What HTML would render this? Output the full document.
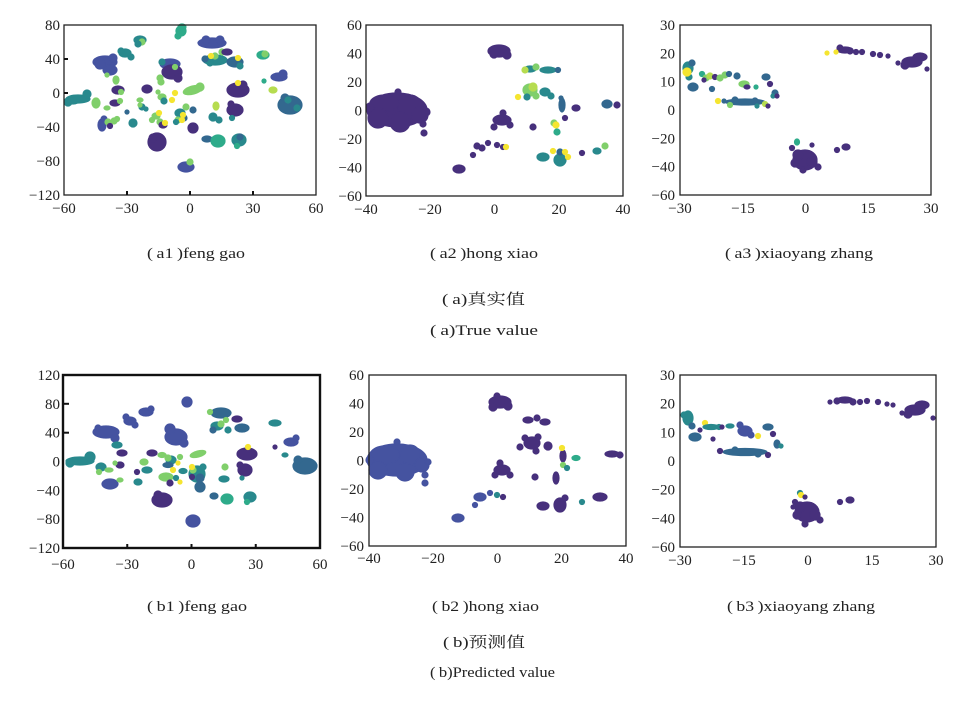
<!DOCTYPE html>
<html><head><meta charset="utf-8">
<style>
html,body{margin:0;padding:0;background:#fff;}
svg{display:block;}
.dp{fill:#47307c;stroke:#47307c}.bp{fill:#4553a0;stroke:#4553a0}.b{fill:#33688f;stroke:#33688f}.t{fill:#29898d;stroke:#29898d}.tg{fill:#2eab8a;stroke:#2eab8a}.g{fill:#80cf6b;stroke:#80cf6b}.lg{fill:#b6dc50;stroke:#b6dc50}.y{fill:#f5e530;stroke:#f5e530}
.pts ellipse,.pts circle{stroke-width:1.2;}
text{font-family:"Liberation Serif","Noto Serif CJK SC","Noto Sans CJK SC",serif;fill:#222;}
.tk{font-size:15px;}
.cap{font-size:15px;}
.ax{fill:none;stroke:#222;stroke-width:1.3;}
.tm{stroke:#111;stroke-width:2;}
</style></head><body>
<svg width="970" height="701" viewBox="0 0 970 701" xmlns="http://www.w3.org/2000/svg">
<rect width="970" height="701" fill="#fff"/>

<!-- ================= a1 ================= -->
<g class="pts">
<ellipse class="t" cx="78" cy="99" rx="12" ry="4"/><circle class="t" cx="68" cy="102" r="4"/><circle class="t" cx="87" cy="94" r="4"/><ellipse class="t" cx="73" cy="101" rx="6" ry="3"/>
<ellipse class="bp" cx="105" cy="62" rx="12" ry="6"/><ellipse class="bp" cx="110" cy="70" rx="7" ry="5"/><circle class="bp" cx="100" cy="64" r="5"/><circle class="bp" cx="113" cy="58" r="4"/>
<ellipse class="t" cx="125" cy="53" rx="6" ry="4"/><circle class="t" cx="131" cy="57" r="3"/><circle class="t" cx="121" cy="51" r="3"/>
<ellipse class="t" cx="140" cy="40" rx="6" ry="4"/><circle class="g" cx="142" cy="42" r="3"/><circle class="t" cx="138" cy="44" r="3"/>
<ellipse class="tg" cx="181" cy="31" rx="5" ry="5"/><ellipse class="tg" cx="182" cy="27" rx="4" ry="3"/><circle class="tg" cx="178" cy="36" r="3"/>
<ellipse class="bp" cx="170" cy="64" rx="10" ry="5"/><ellipse class="dp" cx="172" cy="72" rx="10" ry="7"/><circle class="t" cx="162" cy="62" r="3"/><circle class="g" cx="175" cy="67" r="2.5"/><circle class="dp" cx="178" cy="78" r="4"/>
<circle class="g" cx="160" cy="78" r="3"/><circle class="g" cx="161" cy="82" r="3"/>
<ellipse class="dp" cx="147" cy="89" rx="5" ry="4"/>
<ellipse class="dp" cx="118" cy="90" rx="6" ry="4"/><circle class="g" cx="121" cy="92" r="2.5"/>
<ellipse class="g" cx="116" cy="80" rx="3" ry="4"/><circle class="g" cx="107" cy="75" r="2"/>
<ellipse class="g" cx="193" cy="90" rx="10" ry="4" transform="rotate(-15 193 90)"/><circle class="g" cx="200" cy="87" r="4"/>
<ellipse class="bp" cx="212" cy="43" rx="14" ry="5"/><circle class="bp" cx="220" cy="40" r="4"/><circle class="bp" cx="206" cy="40" r="4"/>
<ellipse class="t" cx="215" cy="60" rx="12" ry="5"/><circle class="g" cx="215" cy="56" r="3"/><circle class="y" cx="211" cy="56" r="2.5"/><circle class="g" cx="222" cy="52" r="3"/><circle class="t" cx="210" cy="63" r="3"/><circle class="b" cx="205" cy="59" r="3"/>
<ellipse class="dp" cx="227" cy="52" rx="5" ry="3"/>
<ellipse class="b" cx="235" cy="62" rx="8" ry="5"/><circle class="y" cx="238" cy="58" r="2.5"/><circle class="t" cx="240" cy="66" r="3"/>
<ellipse class="tg" cx="263" cy="55" rx="6" ry="4"/><circle class="g" cx="265" cy="54" r="3"/>
<ellipse class="dp" cx="238" cy="90" rx="11" ry="7"/><circle class="dp" cx="243" cy="85" r="4"/><circle class="y" cx="238" cy="83" r="2.5"/>
<ellipse class="dp" cx="235" cy="110" rx="8" ry="6"/><circle class="dp" cx="231" cy="104" r="3"/><circle class="t" cx="232" cy="118" r="2.5"/>
<ellipse class="bp" cx="279" cy="77" rx="8" ry="4"/><circle class="bp" cx="283" cy="74" r="4"/><circle class="tg" cx="264" cy="81" r="2"/>
<ellipse class="lg" cx="273" cy="90" rx="4" ry="3"/>
<ellipse class="b" cx="290" cy="105" rx="12" ry="9"/><circle class="b" cx="285" cy="98" r="4"/><circle class="t" cx="288" cy="100" r="3"/><circle class="t" cx="297" cy="108" r="3"/>
<ellipse class="g" cx="96" cy="103" rx="4" ry="5"/>
<ellipse class="g" cx="107" cy="108" rx="3" ry="2"/>
<ellipse class="dp" cx="115" cy="103" rx="5" ry="3"/><circle class="g" cx="120" cy="101" r="2.5"/>
<ellipse class="bp" cx="102" cy="125" rx="4" ry="6"/><circle class="bp" cx="104" cy="119" r="3"/>
<circle class="g" cx="108" cy="122" r="3"/><circle class="g" cx="114" cy="121" r="3"/><circle class="dp" cx="110" cy="126" r="2.5"/><circle class="g" cx="117" cy="119" r="2.5"/>
<ellipse class="t" cx="133" cy="123" rx="4" ry="4"/>
<circle class="b" cx="127" cy="112" r="2"/>
<ellipse class="g" cx="140" cy="100" rx="3" ry="2"/>
<circle class="t" cx="142" cy="107" r="3"/><circle class="g" cx="140" cy="105" r="2"/><circle class="t" cx="146" cy="109" r="2"/>
<ellipse class="g" cx="162" cy="97" rx="4" ry="3"/><circle class="t" cx="164" cy="101" r="3"/><circle class="g" cx="158" cy="92" r="2"/>
<circle class="y" cx="172" cy="100" r="2.5"/><circle class="y" cx="175" cy="93" r="2.5"/>
<ellipse class="g" cx="156" cy="116" rx="4" ry="3"/><circle class="g" cx="160" cy="122" r="3"/><circle class="y" cx="159" cy="113" r="2.5"/><circle class="g" cx="152" cy="120" r="2.5"/>
<ellipse class="dp" cx="163" cy="125" rx="4" ry="3"/><circle class="y" cx="165" cy="123" r="2.5"/>
<ellipse class="t" cx="180" cy="113" rx="5" ry="4"/><circle class="b" cx="184" cy="118" r="3"/><circle class="g" cx="178" cy="120" r="3"/><circle class="g" cx="186" cy="107" r="3"/><circle class="t" cx="176" cy="122" r="2.5"/>
<circle class="y" cx="183" cy="115" r="2.5"/><circle class="y" cx="182" cy="120" r="2.5"/>
<ellipse class="dp" cx="193" cy="128" rx="5" ry="5"/>
<ellipse class="b" cx="193" cy="110" rx="3" ry="3"/>
<ellipse class="lg" cx="216" cy="106" rx="3" ry="4"/>
<ellipse class="t" cx="213" cy="117" rx="4" ry="4"/><circle class="t" cx="219" cy="120" r="3"/>
<ellipse class="b" cx="207" cy="139" rx="5" ry="3"/>
<ellipse class="tg" cx="218" cy="141" rx="7" ry="6"/>
<ellipse class="t" cx="239" cy="140" rx="7" ry="6"/><circle class="b" cx="240" cy="137" r="3"/>
<circle class="tg" cx="237" cy="146" r="2.5"/>
<ellipse class="dp" cx="157" cy="142" rx="9" ry="9"/><circle class="dp" cx="153" cy="138" r="4"/>
<ellipse class="bp" cx="186" cy="167" rx="8" ry="5"/><ellipse class="g" cx="190" cy="162" rx="3" ry="3"/>
</g>
<rect class="ax" x="64" y="25" width="252" height="170"/>
<line class="tm" x1="64" y1="59" x2="68" y2="59"/><line class="tm" x1="64" y1="93" x2="68" y2="93"/>
<line class="tm" x1="127" y1="195" x2="127" y2="191"/><line class="tm" x1="190" y1="195" x2="190" y2="191"/><line class="tm" x1="253" y1="195" x2="253" y2="191"/>
<g class="tk" text-anchor="end">
<text x="60" y="30">80</text><text x="60" y="64">40</text><text x="60" y="98">0</text><text x="60" y="132">−40</text><text x="60" y="166">−80</text><text x="60" y="200">−120</text>
</g>
<g class="tk" text-anchor="middle">
<text x="64" y="213">−60</text><text x="127" y="213">−30</text><text x="190" y="213">0</text><text x="253" y="213">30</text><text x="316" y="213">60</text>
</g>

<!-- ================= a2 ================= -->
<g class="pts">
<ellipse class="dp" cx="397" cy="110" rx="30" ry="17"/><ellipse class="dp" cx="385" cy="103" rx="15" ry="8"/><circle class="dp" cx="410" cy="107" r="12"/><circle class="dp" cx="420" cy="115" r="8"/><circle class="dp" cx="378" cy="118" r="10"/><circle class="dp" cx="400" cy="122" r="10"/>
<circle class="dp" cx="398" cy="92" r="3"/><circle class="dp" cx="426" cy="112" r="4"/><circle class="dp" cx="423" cy="124" r="3"/><circle class="dp" cx="424" cy="133" r="3"/><circle class="dp" cx="370" cy="107" r="4"/>
<ellipse class="dp" cx="499" cy="51" rx="11" ry="6"/><circle class="dp" cx="494" cy="54" r="4"/><circle class="dp" cx="507" cy="55" r="4"/>
<ellipse class="dp" cx="502" cy="120" rx="9" ry="5"/><circle class="dp" cx="494" cy="127" r="3"/><circle class="dp" cx="510" cy="125" r="3"/><circle class="dp" cx="503" cy="113" r="3"/>
<circle class="dp" cx="477" cy="146" r="3"/><circle class="dp" cx="482" cy="148" r="3"/><circle class="dp" cx="488" cy="143" r="2.5"/><circle class="dp" cx="497" cy="145" r="2.5"/><circle class="dp" cx="503" cy="147" r="2.5"/><circle class="y" cx="506" cy="147" r="2.5"/><circle class="dp" cx="473" cy="155" r="2.5"/>
<ellipse class="dp" cx="459" cy="169" rx="6" ry="4"/>
<ellipse class="t" cx="530" cy="69" rx="6" ry="3"/><circle class="lg" cx="525" cy="70" r="3"/><circle class="g" cx="536" cy="67" r="3"/>
<ellipse class="t" cx="548" cy="70" rx="8" ry="3"/><circle class="b" cx="558" cy="70" r="2.5"/>
<ellipse class="g" cx="530" cy="90" rx="7" ry="6"/><circle class="lg" cx="533" cy="87" r="4"/><circle class="t" cx="527" cy="97" r="3"/><circle class="g" cx="536" cy="96" r="3"/>
<ellipse class="t" cx="545" cy="92" rx="5" ry="4"/><circle class="t" cx="551" cy="96" r="3"/>
<circle class="y" cx="518" cy="97" r="2.5"/>
<ellipse class="b" cx="562" cy="105" rx="3" ry="7"/><circle class="b" cx="561" cy="98" r="2"/>
<ellipse class="dp" cx="576" cy="108" rx="4" ry="3"/><circle class="dp" cx="565" cy="118" r="2.5"/><circle class="dp" cx="533" cy="127" r="3"/>
<circle class="g" cx="554" cy="123" r="3"/><circle class="y" cx="556" cy="125" r="3"/>
<circle class="tg" cx="557" cy="132" r="3"/>
<ellipse class="t" cx="543" cy="157" rx="6" ry="4"/>
<ellipse class="t" cx="560" cy="160" rx="6" ry="6"/><circle class="b" cx="560" cy="152" r="3"/><circle class="y" cx="553" cy="151" r="2.5"/><circle class="y" cx="565" cy="152" r="2.5"/><circle class="y" cx="568" cy="157" r="2.5"/>
<circle class="dp" cx="582" cy="153" r="2.5"/>
<ellipse class="t" cx="597" cy="151" rx="4" ry="3"/><ellipse class="g" cx="605" cy="146" rx="3" ry="3"/>
<ellipse class="b" cx="607" cy="104" rx="5" ry="4"/><circle class="dp" cx="617" cy="105" r="3"/>
</g>
<rect class="ax" x="366" y="25" width="257" height="171"/>
<g class="tk" text-anchor="end">
<text x="362" y="30">60</text><text x="362" y="58.5">40</text><text x="362" y="87">20</text><text x="362" y="115.5">0</text><text x="362" y="144">−20</text><text x="362" y="172.5">−40</text><text x="362" y="201">−60</text>
</g>
<g class="tk" text-anchor="middle">
<text x="366" y="214">−40</text><text x="430" y="214">−20</text><text x="494.5" y="214">0</text><text x="559" y="214">20</text><text x="623" y="214">40</text>
</g>

<!-- ================= a3 ================= -->
<g class="pts">
<ellipse class="t" cx="688" cy="68" rx="5" ry="6"/><circle class="b" cx="692" cy="63" r="3"/><circle class="t" cx="689" cy="77" r="3"/><circle class="y" cx="687" cy="72" r="4"/>
<ellipse class="b" cx="693" cy="87" rx="5" ry="4"/>
<circle class="tg" cx="702" cy="74" r="2.5"/><circle class="g" cx="706" cy="78" r="3"/><circle class="lg" cx="710" cy="76" r="3"/><circle class="dp" cx="715" cy="77" r="2.5"/><circle class="g" cx="720" cy="78" r="3"/><circle class="g" cx="725" cy="75" r="3"/><circle class="b" cx="729" cy="74" r="2.5"/><circle class="dp" cx="704" cy="80" r="2"/><circle class="b" cx="712" cy="89" r="2.5"/>
<circle class="b" cx="737" cy="76" r="3"/>
<ellipse class="g" cx="744" cy="84" rx="5" ry="3"/><ellipse class="dp" cx="747" cy="87" rx="3" ry="2"/>
<circle class="tg" cx="756" cy="87" r="2"/>
<ellipse class="b" cx="766" cy="77" rx="4" ry="3"/>
<circle class="dp" cx="770" cy="84" r="2.5"/>
<circle class="b" cx="775" cy="93" r="3"/><circle class="t" cx="773" cy="96" r="2"/><circle class="dp" cx="777" cy="96" r="2"/>
<ellipse class="b" cx="745" cy="102" rx="20" ry="3"/><circle class="b" cx="735" cy="100" r="3"/><circle class="b" cx="755" cy="101" r="3"/><circle class="y" cx="718" cy="101" r="2.5"/><circle class="b" cx="724" cy="101" r="2"/><circle class="g" cx="730" cy="105" r="2.5"/><circle class="t" cx="757" cy="106" r="2"/><circle class="lg" cx="765" cy="104" r="2.5"/><circle class="dp" cx="768" cy="106" r="2"/>
<ellipse class="dp" cx="845" cy="50" rx="8" ry="3"/><circle class="dp" cx="840" cy="48" r="3"/><circle class="dp" cx="850" cy="51" r="3"/><circle class="dp" cx="856" cy="52" r="2.5"/><circle class="dp" cx="862" cy="52" r="2.5"/><circle class="dp" cx="873" cy="54" r="2.5"/><circle class="dp" cx="880" cy="55" r="2.5"/><circle class="dp" cx="888" cy="56" r="2"/>
<circle class="y" cx="827" cy="53" r="2"/><circle class="y" cx="836" cy="52" r="2"/>
<ellipse class="dp" cx="912" cy="62" rx="10" ry="5"/><ellipse class="dp" cx="920" cy="57" rx="7" ry="4"/><circle class="dp" cx="905" cy="65" r="4"/><circle class="dp" cx="898" cy="63" r="2"/><circle class="dp" cx="927" cy="69" r="2"/>
<ellipse class="dp" cx="805" cy="160" rx="12" ry="10"/><circle class="dp" cx="798" cy="155" r="5"/><circle class="dp" cx="812" cy="162" r="5"/><circle class="dp" cx="795" cy="163" r="4"/><circle class="dp" cx="818" cy="167" r="3"/><circle class="dp" cx="803" cy="170" r="3"/><circle class="dp" cx="792" cy="148" r="2.5"/>
<ellipse class="tg" cx="797" cy="142" rx="2.5" ry="3"/>
<circle class="dp" cx="812" cy="145" r="2"/><circle class="dp" cx="837" cy="150" r="2.5"/><ellipse class="dp" cx="846" cy="147" rx="4" ry="3"/>
</g>
<rect class="ax" x="680" y="25" width="251" height="170"/>
<g class="tk" text-anchor="end">
<text x="675" y="30">30</text><text x="675" y="58.3">20</text><text x="675" y="86.7">10</text><text x="675" y="115">0</text><text x="675" y="143.3">−20</text><text x="675" y="171.7">−40</text><text x="675" y="200">−60</text>
</g>
<g class="tk" text-anchor="middle">
<text x="680" y="213">−30</text><text x="743" y="213">−15</text><text x="805.5" y="213">0</text><text x="868" y="213">15</text><text x="931" y="213">30</text>
</g>

<!-- captions a -->
<g class="cap">
<text x="147" y="258" textLength="98" lengthAdjust="spacingAndGlyphs">(&#8201;a1&#8201;)feng gao</text>
<text x="430" y="258" textLength="108" lengthAdjust="spacingAndGlyphs">(&#8201;a2&#8201;)hong xiao</text>
<text x="725" y="258" textLength="148" lengthAdjust="spacingAndGlyphs">(&#8201;a3&#8201;)xiaoyang zhang</text>
<text x="442" y="304" textLength="83" lengthAdjust="spacingAndGlyphs">(&#8201;a)真实值</text>
<text x="430" y="335" textLength="108" lengthAdjust="spacingAndGlyphs">(&#8201;a)True value</text>
</g>

<!-- ================= b1 ================= -->
<g class="pts">
<ellipse class="t" cx="80" cy="461" rx="14" ry="4"/><circle class="t" cx="70" cy="463" r="4"/><circle class="t" cx="90" cy="457" r="5"/>
<ellipse class="bp" cx="106" cy="432" rx="13" ry="6"/><circle class="bp" cx="115" cy="438" r="4"/><circle class="bp" cx="98" cy="428" r="3"/>
<ellipse class="bp" cx="130" cy="421" rx="6" ry="4"/><circle class="bp" cx="126" cy="417" r="3"/><circle class="bp" cx="135" cy="425" r="3"/>
<ellipse class="bp" cx="146" cy="412" rx="7" ry="4"/><circle class="bp" cx="151" cy="409" r="3"/>
<ellipse class="bp" cx="187" cy="402" rx="5" ry="5"/>
<ellipse class="bp" cx="176" cy="437" rx="11" ry="8"/><circle class="bp" cx="170" cy="429" r="5"/><circle class="bp" cx="184" cy="443" r="4"/>
<ellipse class="b" cx="221" cy="413" rx="10" ry="5"/>
<ellipse class="dp" cx="237" cy="419" rx="5" ry="3"/>
<ellipse class="t" cx="217" cy="426" rx="6" ry="4"/><circle class="g" cx="221" cy="424" r="3"/><circle class="b" cx="213" cy="430" r="3"/><circle class="g" cx="226" cy="420" r="2.5"/><circle class="t" cx="228" cy="430" r="3"/>
<ellipse class="b" cx="242" cy="428" rx="7" ry="4"/>
<ellipse class="t" cx="275" cy="423" rx="6" ry="3"/>
<ellipse class="bp" cx="291" cy="442" rx="7" ry="4"/><circle class="bp" cx="296" cy="438" r="3"/><circle class="dp" cx="275" cy="447" r="2"/>
<ellipse class="t" cx="285" cy="455" rx="3" ry="2"/>
<ellipse class="dp" cx="247" cy="454" rx="10" ry="6"/><circle class="y" cx="248" cy="447" r="2.5"/>
<ellipse class="dp" cx="245" cy="470" rx="7" ry="6"/><circle class="dp" cx="240" cy="465" r="3"/><circle class="t" cx="242" cy="478" r="2"/>
<ellipse class="b" cx="305" cy="466" rx="12" ry="8"/><circle class="b" cx="298" cy="460" r="4"/>
<ellipse class="t" cx="117" cy="445" rx="5" ry="3"/><ellipse class="dp" cx="122" cy="453" rx="5" ry="3"/>
<ellipse class="t" cx="101" cy="467" rx="5" ry="4"/><circle class="g" cx="99" cy="472" r="2.5"/>
<ellipse class="dp" cx="120" cy="465" rx="4" ry="3"/><circle class="g" cx="115" cy="463" r="2"/>
<ellipse class="g" cx="109" cy="470" rx="4" ry="2"/>
<ellipse class="bp" cx="110" cy="484" rx="8" ry="5"/>
<ellipse class="g" cx="120" cy="480" rx="3" ry="2"/>
<ellipse class="t" cx="138" cy="482" rx="4" ry="3"/>
<circle class="dp" cx="137" cy="472" r="2.5"/>
<ellipse class="g" cx="144" cy="462" rx="4" ry="3"/>
<ellipse class="t" cx="147" cy="470" rx="5" ry="3"/>
<ellipse class="dp" cx="152" cy="453" rx="5" ry="3"/>
<ellipse class="g" cx="162" cy="455" rx="4" ry="2.5"/>
<ellipse class="t" cx="171" cy="460" rx="5" ry="4"/><circle class="g" cx="168" cy="458" r="3"/>
<circle class="g" cx="180" cy="457" r="2.5"/>
<ellipse class="b" cx="168" cy="465" rx="5" ry="2.5"/>
<ellipse class="g" cx="166" cy="477" rx="7" ry="4"/><circle class="dp" cx="170" cy="483" r="3"/><circle class="t" cx="176" cy="478" r="2.5"/>
<circle class="y" cx="173" cy="470" r="2.5"/><circle class="y" cx="178" cy="463" r="2"/>
<ellipse class="t" cx="183" cy="471" rx="4" ry="2.5"/>
<ellipse class="dp" cx="162" cy="500" rx="10" ry="7"/><circle class="dp" cx="158" cy="495" r="4"/>
<ellipse class="g" cx="198" cy="454" rx="8" ry="3" transform="rotate(-15 198 454)"/>
<ellipse class="t" cx="197" cy="474" rx="8" ry="8"/><circle class="g" cx="193" cy="470" r="3"/><circle class="b" cx="200" cy="478" r="4"/><circle class="t" cx="203" cy="467" r="3"/>
<ellipse class="b" cx="200" cy="487" rx="5" ry="5"/>
<circle class="dp" cx="192" cy="477" r="2.5"/><circle class="y" cx="192" cy="467" r="2.5"/><circle class="y" cx="180" cy="482" r="2"/>
<ellipse class="g" cx="225" cy="467" rx="3" ry="3"/>
<ellipse class="t" cx="224" cy="479" rx="5" ry="3"/>
<ellipse class="b" cx="214" cy="496" rx="4" ry="3"/>
<ellipse class="tg" cx="227" cy="499" rx="6" ry="5"/>
<ellipse class="t" cx="250" cy="497" rx="6" ry="5"/><circle class="tg" cx="247" cy="502" r="2.5"/>
<ellipse class="bp" cx="193" cy="521" rx="7" ry="6"/>
<circle class="g" cx="210" cy="412" r="2.5"/>
</g>
<rect x="63" y="375" width="257" height="173" fill="none" stroke="#111" stroke-width="2.4"/>
<line class="tm" x1="63" y1="403.8" x2="69" y2="403.8"/><line class="tm" x1="63" y1="432.7" x2="69" y2="432.7"/>
<line class="tm" x1="127.25" y1="548" x2="127.25" y2="544"/><line class="tm" x1="191.5" y1="548" x2="191.5" y2="544"/><line class="tm" x1="255.75" y1="548" x2="255.75" y2="544"/>
<g class="tk" text-anchor="end">
<text x="60" y="380">120</text><text x="60" y="408.8">80</text><text x="60" y="437.7">40</text><text x="60" y="466.5">0</text><text x="60" y="495.3">−40</text><text x="60" y="524.2">−80</text><text x="60" y="553">−120</text>
</g>
<g class="tk" text-anchor="middle">
<text x="63" y="569">−60</text><text x="127.25" y="569">−30</text><text x="191.5" y="569">0</text><text x="255.75" y="569">30</text><text x="320" y="569">60</text>
</g>

<!-- ================= b2 ================= -->
<g class="pts">
<ellipse class="bp" cx="397" cy="460" rx="30" ry="16"/><ellipse class="bp" cx="385" cy="455" rx="15" ry="9"/><circle class="bp" cx="410" cy="455" r="10"/><circle class="bp" cx="378" cy="470" r="9"/><circle class="bp" cx="405" cy="472" r="9"/><circle class="bp" cx="422" cy="465" r="7"/>
<circle class="bp" cx="370" cy="460" r="4"/><circle class="bp" cx="397" cy="442" r="3"/><circle class="bp" cx="425" cy="475" r="3"/><circle class="bp" cx="425" cy="483" r="3"/><circle class="bp" cx="428" cy="462" r="3"/>
<ellipse class="dp" cx="500" cy="402" rx="11" ry="6"/><circle class="dp" cx="493" cy="407" r="4"/><circle class="dp" cx="508" cy="406" r="4"/><circle class="dp" cx="497" cy="396" r="3"/>
<ellipse class="dp" cx="528" cy="420" rx="5" ry="3"/><circle class="dp" cx="537" cy="418" r="3"/><ellipse class="dp" cx="545" cy="422" rx="5" ry="3"/>
<ellipse class="dp" cx="532" cy="443" rx="8" ry="6"/><circle class="dp" cx="525" cy="438" r="3"/><circle class="dp" cx="538" cy="437" r="3"/><circle class="dp" cx="548" cy="446" r="4"/><circle class="dp" cx="520" cy="447" r="3"/><circle class="dp" cx="536" cy="451" r="3"/>
<ellipse class="dp" cx="563" cy="456" rx="3" ry="6"/><circle class="y" cx="562" cy="448" r="2.5"/>
<ellipse class="tg" cx="576" cy="458" rx="4" ry="2.5"/>
<circle class="g" cx="563" cy="465" r="2.5"/><circle class="t" cx="567" cy="468" r="2.5"/>
<ellipse class="dp" cx="612" cy="454" rx="7" ry="3"/><circle class="dp" cx="620" cy="455" r="3"/>
<ellipse class="dp" cx="502" cy="470" rx="8" ry="5"/><circle class="dp" cx="495" cy="475" r="3"/><circle class="dp" cx="510" cy="475" r="3"/><circle class="dp" cx="500" cy="463" r="3"/>
<circle class="dp" cx="535" cy="477" r="3"/>
<ellipse class="dp" cx="556" cy="478" rx="3" ry="6"/>
<ellipse class="bp" cx="480" cy="497" rx="6" ry="4"/><circle class="bp" cx="475" cy="505" r="2.5"/><circle class="bp" cx="490" cy="493" r="2.5"/><circle class="t" cx="497" cy="495" r="2.5"/><circle class="dp" cx="503" cy="497" r="2.5"/>
<ellipse class="bp" cx="458" cy="518" rx="6" ry="4"/>
<ellipse class="dp" cx="543" cy="506" rx="6" ry="4"/>
<ellipse class="dp" cx="560" cy="505" rx="6" ry="7"/><circle class="dp" cx="565" cy="498" r="3"/>
<circle class="t" cx="582" cy="502" r="2.5"/>
<ellipse class="dp" cx="600" cy="497" rx="7" ry="4"/>
</g>
<rect class="ax" x="369" y="375" width="257" height="171"/>
<g class="tk" text-anchor="end">
<text x="364" y="380">60</text><text x="364" y="408.5">40</text><text x="364" y="437">20</text><text x="364" y="465.5">0</text><text x="364" y="494">−20</text><text x="364" y="522.5">−40</text><text x="364" y="551">−60</text>
</g>
<g class="tk" text-anchor="middle">
<text x="369" y="563">−40</text><text x="433" y="563">−20</text><text x="497.5" y="563">0</text><text x="561.5" y="563">20</text><text x="626" y="563">40</text>
</g>

<!-- ================= b3 ================= -->
<g class="pts">
<ellipse class="t" cx="688" cy="418" rx="5" ry="7"/><circle class="t" cx="684" cy="415" r="3"/><circle class="b" cx="692" cy="426" r="3"/>
<ellipse class="b" cx="695" cy="437" rx="6" ry="4"/>
<circle class="y" cx="705" cy="423" r="2.5"/>
<ellipse class="t" cx="711" cy="427" rx="8" ry="2.5"/><circle class="t" cx="719" cy="427" r="2.5"/>
<circle class="dp" cx="700" cy="430" r="2"/><circle class="dp" cx="713" cy="439" r="2"/><circle class="dp" cx="722" cy="427" r="2"/>
<ellipse class="t" cx="730" cy="426" rx="4" ry="2"/>
<ellipse class="bp" cx="745" cy="431" rx="7" ry="5"/><circle class="bp" cx="740" cy="425" r="3"/><circle class="bp" cx="751" cy="435" r="3"/>
<circle class="y" cx="758" cy="436" r="2.5"/>
<circle class="dp" cx="773" cy="434" r="2.5"/>
<ellipse class="b" cx="768" cy="427" rx="5" ry="3"/>
<ellipse class="b" cx="777" cy="444" rx="3" ry="4"/><circle class="t" cx="781" cy="446" r="2"/>
<ellipse class="b" cx="745" cy="452" rx="22" ry="3.5"/><circle class="b" cx="735" cy="450" r="3"/><circle class="dp" cx="720" cy="451" r="2.5"/><circle class="dp" cx="768" cy="455" r="2.5"/><circle class="b" cx="758" cy="454" r="3"/>
<ellipse class="dp" cx="845" cy="400" rx="8" ry="3"/><circle class="dp" cx="837" cy="401" r="3"/><circle class="dp" cx="853" cy="402" r="3"/><circle class="dp" cx="860" cy="402" r="2.5"/><circle class="dp" cx="867" cy="401" r="2.5"/><circle class="dp" cx="878" cy="402" r="2.5"/><circle class="dp" cx="887" cy="404" r="2"/><circle class="dp" cx="893" cy="405" r="2"/><circle class="dp" cx="830" cy="402" r="2"/>
<ellipse class="dp" cx="915" cy="410" rx="10" ry="5"/><ellipse class="dp" cx="922" cy="405" rx="7" ry="4"/><circle class="dp" cx="908" cy="414" r="4"/><circle class="dp" cx="933" cy="418" r="2"/><circle class="dp" cx="902" cy="413" r="2"/>
<ellipse class="dp" cx="807" cy="512" rx="12" ry="10"/><circle class="dp" cx="800" cy="507" r="5"/><circle class="dp" cx="815" cy="515" r="5"/><circle class="dp" cx="797" cy="515" r="4"/><circle class="dp" cx="820" cy="520" r="3"/><circle class="dp" cx="805" cy="524" r="3"/><circle class="dp" cx="795" cy="502" r="2.5"/><circle class="dp" cx="793" cy="507" r="2"/>
<circle class="t" cx="800" cy="493" r="2.5"/><circle class="y" cx="801" cy="495" r="2.5"/>
<circle class="dp" cx="805" cy="497" r="2"/><circle class="dp" cx="840" cy="502" r="2.5"/><ellipse class="dp" cx="850" cy="500" rx="4" ry="3"/>
</g>
<rect class="ax" x="680" y="375" width="256" height="172"/>
<g class="tk" text-anchor="end">
<text x="675" y="380">30</text><text x="675" y="408.7">20</text><text x="675" y="437.3">10</text><text x="675" y="466">0</text><text x="675" y="494.7">−20</text><text x="675" y="523.3">−40</text><text x="675" y="552">−60</text>
</g>
<g class="tk" text-anchor="middle">
<text x="680" y="565">−30</text><text x="744" y="565">−15</text><text x="808" y="565">0</text><text x="872" y="565">15</text><text x="936" y="565">30</text>
</g>

<!-- captions b -->
<g class="cap">
<text x="147" y="611" textLength="100" lengthAdjust="spacingAndGlyphs">(&#8201;b1&#8201;)feng gao</text>
<text x="432" y="611" textLength="107" lengthAdjust="spacingAndGlyphs">(&#8201;b2&#8201;)hong xiao</text>
<text x="727" y="611" textLength="148" lengthAdjust="spacingAndGlyphs">(&#8201;b3&#8201;)xiaoyang zhang</text>
<text x="443" y="647" textLength="82" lengthAdjust="spacingAndGlyphs">(&#8201;b)预测值</text>
<text x="430" y="677" textLength="125" lengthAdjust="spacingAndGlyphs">(&#8201;b)Predicted value</text>
</g>
</svg>
</body></html>
